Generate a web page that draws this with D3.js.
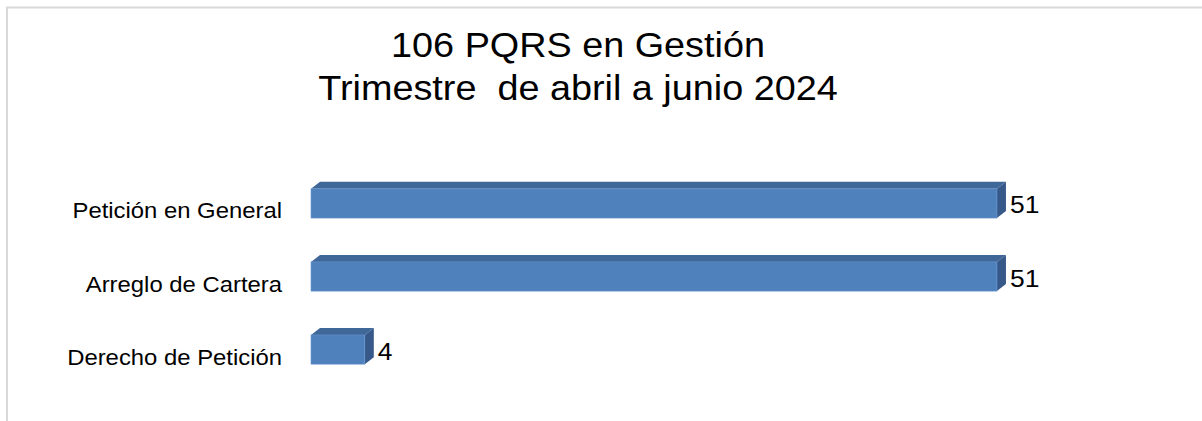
<!DOCTYPE html>
<html>
<head>
<meta charset="utf-8">
<script src="https://cdn.jsdelivr.net/npm/d3@7"></script>
<style>
  body { margin: 0; background: #fff; }
  svg { display: block; font-family: "Liberation Sans", Arial, sans-serif; }
</style>
</head>
<body>
<div id="chart"></div>
<script>
// Chart data
const categories = ['Petición en General', 'Arreglo de Cartera', 'Derecho de Petición'];
const values = [51, 51, 4];
const titleLines = ['106 PQRS en Gestión', 'Trimestre  de abril a junio 2024'];

const W = 1202, H = 421;
const depthX = 9, depthY = 7;

const svg = d3.select('#chart')
  .append('svg')
  .attr('width', W)
  .attr('height', H);

// Outer frame (light grey, runs off the right/bottom)
svg.append('rect')
  .attr('x', 7)
  .attr('y', 7.5)
  .attr('width', W + 20)
  .attr('height', H + 20)
  .attr('fill', 'none')
  .attr('stroke', '#d9d9d9')
  .attr('stroke-width', 2);

// Scales
const x = d3.scaleLinear()
  .domain([0, 60])
  .range([311, 1118]);

const y = d3.scaleBand()
  .domain(categories)
  .range([145, 408])
  .paddingInner(0.6)
  .paddingOuter(0.6);

const data = categories.map((c, i) => ({ cat: c, val: values[i] }));

// Title
const title = svg.append('g')
  .attr('transform', 'translate(578,0) scale(1.08,1)');
title.selectAll('text')
  .data(titleLines)
  .enter()
  .append('text')
  .attr('x', 0)
  .attr('y', (d, i) => 57 + i * 43)
  .attr('text-anchor', 'middle')
  .style('font-size', '35px')
  .style('fill', '#000')
  .style('white-space', 'pre')
  .text(d => d);

// Bars (3D look: top face, side face, front face)
const bars = svg.selectAll('g.bar')
  .data(data)
  .enter()
  .append('g')
  .attr('class', 'bar');

bars.append('path')
  .attr('fill', '#3F6797')
  .attr('d', d => {
    const x0 = x(0), x1 = x(d.val), yt = y(d.cat);
    return `M${x0},${yt} L${x0 + depthX},${yt - depthY} L${x1 + depthX},${yt - depthY} L${x1},${yt} Z`;
  });

bars.append('path')
  .attr('fill', '#36598A')
  .attr('d', d => {
    const x1 = x(d.val), yt = y(d.cat), yb = yt + y.bandwidth();
    return `M${x1},${yt} L${x1 + depthX},${yt - depthY} L${x1 + depthX},${yb - depthY} L${x1},${yb} Z`;
  });

bars.append('rect')
  .attr('x', x(0))
  .attr('y', d => y(d.cat))
  .attr('width', d => x(d.val) - x(0))
  .attr('height', y.bandwidth())
  .attr('fill', '#4F81BD')
  .attr('stroke', '#6A96CC')
  .attr('stroke-width', 0.6);

// Value labels
bars.append('text')
  .attr('transform', d => `translate(${x(d.val) + depthX + 4},${y(d.cat) + y.bandwidth() / 2 + 10}) scale(1.1,1)`)
  .style('font-size', '24px')
  .style('fill', '#000')
  .text(d => d.val);

// Category labels (sit a little below the bar centre, as in the original)
bars.append('text')
  .attr('transform', d => `translate(282,${y(d.cat) + y.bandwidth() / 2 + 15}) scale(1.11,1)`)
  .attr('text-anchor', 'end')
  .style('font-size', '21.5px')
  .style('fill', '#000')
  .text(d => d.cat);
</script>
</body>
</html>
